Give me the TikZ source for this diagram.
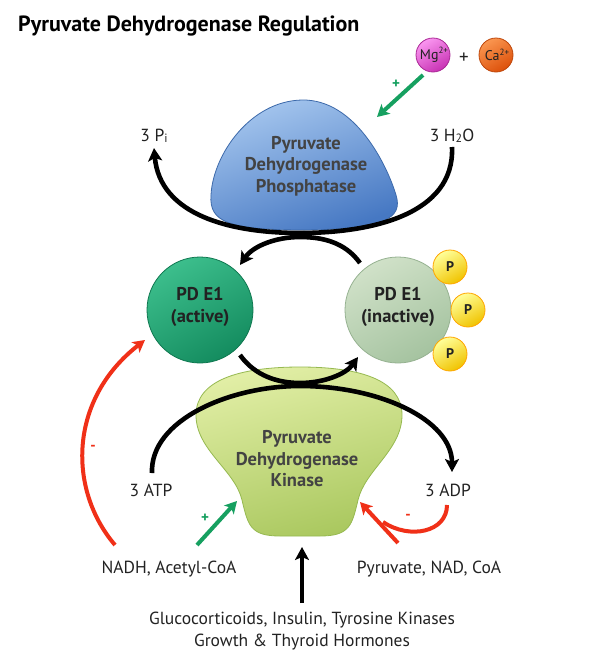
\documentclass[tikz,border=0pt]{standalone}
\usepackage{fontspec}
\setmainfont{PT Sans}
\usetikzlibrary{arrows.meta}
\definecolor{txt}{HTML}{222222}
\definecolor{grn}{HTML}{16A060}
\definecolor{rd}{HTML}{F03018}
\begin{document}
\begin{tikzpicture}[x=1pt,y=-1pt,
  lbl/.style={font=\fontsize{17.5}{20}\selectfont, text=txt, inner sep=0pt},
  enz/.style={font=\fontsize{18.5}{21.5}\selectfont\bfseries, text=txt!85, align=center, inner sep=0pt},
  pdtxt/.style={font=\fontsize{18.5}{22}\selectfont\bfseries, text=txt, align=center, inner sep=0pt},
  blackarc/.style={line width=4.6pt, -{Stealth[length=13pt,width=14pt,inset=3pt]}},
  grnarrow/.style={grn, line width=4pt, -{Stealth[length=12pt,width=13pt,inset=3pt]}},
  redarrow/.style={rd, line width=4pt, -{Stealth[length=12pt,width=13pt,inset=3pt]}},
  redline/.style={rd, line width=4pt},
  pball/.style={circle, minimum size=34pt, inner sep=0pt, draw=orange!70!yellow, line width=0.8pt,
    top color=yellow!40, bottom color={rgb,255:red,240;green,195;blue,0}, shading angle=30,
    font=\fontsize{14}{14}\selectfont\bfseries, text=txt},
  ion/.style={circle, minimum size=34pt, inner sep=0pt, line width=0.8pt, font=\fontsize{14}{14}\selectfont, text=txt},
  sign/.style={font=\fontsize{15}{15}\selectfont\bfseries, inner sep=0pt}
]
\useasboundingbox (0,0) rectangle (597,656);
\fill[white] (0,0) rectangle (597,656);

% title
\node[anchor=base west, inner sep=0pt, font=\fontsize{22}{24}\selectfont\bfseries, text=black] (title) at (18,31) {Pyruvate Dehydrogenase Regulation};

% ions
\node[ion, draw={rgb,255:red,170;green,40;blue,150}, top color={rgb,255:red,250;green,150;blue,240}, bottom color={rgb,255:red,200;green,50;blue,180}, shading angle=30] (mg) at (433,55) {\hspace{2pt}Mg\raisebox{0.8ex}{\fontsize{9}{9}\selectfont 2+}};
\node[font=\fontsize{19}{19}\selectfont, text=txt, inner sep=0pt] (plus) at (464,58) {+};
\node[ion, draw={rgb,255:red,190;green,70;blue,10}, top color={rgb,255:red,250;green,150;blue,80}, bottom color={rgb,255:red,220;green,80;blue,10}, shading angle=30] (ca) at (496,55) {\hspace{2pt}Ca\raisebox{0.8ex}{\fontsize{9}{9}\selectfont 2+}};

% phosphatase blob
\shade[draw={rgb,255:red,60;green,105;blue,170}, line width=0.8pt,
  top color={rgb,255:red,165;green,198;blue,238}, bottom color={rgb,255:red,70;green,120;blue,195}, shading angle=20]
  (302,100) .. controls (355,99) and (387,165) .. (396,195)
  .. controls (403,218) and (386,229) .. (305,230)
  .. controls (228,230) and (209,222) .. (211,195)
  .. controls (213,155) and (250,101) .. (302,100) -- cycle;
\node[enz] (pdp) at (306,166) {Pyruvate\\Dehydrogenase\\Phosphatase};

% kinase blob
\shade[draw={rgb,255:red,150;green,185;blue,80}, line width=0.8pt,
  top color={rgb,255:red,225;green,238;blue,165}, bottom color={rgb,255:red,170;green,200;blue,95}, shading angle=15]
  (300,367) .. controls (360,367) and (402,380) .. (402,415)
  .. controls (402,450) and (365,470) .. (358,500)
  .. controls (352,525) and (350,536) .. (320,536)
  -- (280,536) .. controls (250,536) and (248,525) .. (242,500)
  .. controls (235,470) and (196,450) .. (196,415)
  .. controls (196,380) and (240,367) .. (300,367) -- cycle;
\node[enz] (pdk) at (297,459) {Pyruvate\\Dehydrogenase\\Kinase};

% PD E1 circles
\node[circle, minimum size=106pt, inner sep=0pt, draw={rgb,255:red,15;green,120;blue,80}, line width=0.8pt,
  top color={rgb,255:red,60;green,190;blue,140}, bottom color={rgb,255:red,20;green,140;blue,95}, shading angle=30] (act) at (200,310) {};
\node[pdtxt] (acttxt) at (200,307) {PD E1\\(active)};
\node[circle, minimum size=106pt, inner sep=0pt, draw={rgb,255:red,150;green,178;blue,145}, line width=0.8pt,
  top color={rgb,255:red,208;green,225;blue,200}, bottom color={rgb,255:red,165;green,195;blue,160}, shading angle=30] (inact) at (398,310) {};
\node[pdtxt] (inacttxt) at (398,307) {PD E1\\(inactive)};

% phosphate balls
\node[pball] (p1) at (450,267) {P};
\node[pball] (p2) at (468,310) {P};
\node[pball] (p3) at (450,354) {P};

% labels
\node[lbl, anchor=base] (pi) at (154,141) {3 P\raisebox{-0.2ex}{\fontsize{12}{12}\selectfont i}};
\node[lbl, anchor=base] (h2o) at (452,141) {3 H\raisebox{-0.2ex}{\fontsize{12}{12}\selectfont 2}O};
\node[lbl, anchor=base] (atp) at (151,496) {3 ATP};
\node[lbl, anchor=base] (adp) at (448,496) {3 ADP};
\node[lbl, anchor=base] (nadh) at (169,573) {NADH, Acetyl-CoA};
\node[lbl, anchor=base] (pyr) at (429,573) {Pyruvate, NAD, CoA};
\node[lbl, anchor=base] (horm1) at (302,624) {Glucocorticoids, Insulin, Tyrosine Kinases};
\node[lbl, anchor=base] (horm2) at (302,646) {Growth \& Thyroid Hormones};

% connector coordinates
\coordinate (h2oS) at (452,147);
\coordinate (piS) at (154,148);
\coordinate (inTop) at (360,263);
\coordinate (actTop) at (240,265);
\coordinate (actBot) at (240,355);
\coordinate (inBot) at (358,357);
\coordinate (atpN) at (152,473);
\coordinate (adpN) at (452,472);
\coordinate (mgS) at (423,75);
\coordinate (pdpNE) at (377,117);
\coordinate (nadhN) at (115,545);
\coordinate (actSW) at (145,340);
\coordinate (acoaN) at (197,545);
\coordinate (pdkSW) at (237,501);
\coordinate (hormN) at (302,603);
\coordinate (pdkS) at (302,547);
\coordinate (pyrN) at (398,543);
\coordinate (pdkSE) at (360,502);
\coordinate (adpS) at (447,505);
\coordinate (join) at (383,522);

% black arcs
\draw[blackarc] (h2oS) .. controls (455,215) and (370,233) .. (300,233)
  .. controls (230,233) and (160,215) .. (piS);
\draw[blackarc] (inTop) .. controls (345,242) and (322,237) .. (300,237)
  .. controls (276,237) and (253,246) .. (actTop);
\draw[blackarc] (actBot) .. controls (255,376) and (278,383) .. (300,383)
  .. controls (324,383) and (346,374) .. (inBot);
\draw[blackarc] (atpN) .. controls (150,420) and (230,386) .. (300,386)
  .. controls (380,386) and (452,420) .. (adpN);
\draw[blackarc] (hormN) -- (pdkS);

% green arrows
\draw[grnarrow] (mgS) -- (pdpNE);
\node[sign, text=grn] (plus1) at (396,84) {+};
\draw[grnarrow] (acoaN) -- (pdkSW);
\node[sign, text=grn] (plus2) at (205,518) {+};

% red arrows
\draw[redarrow] (nadhN) .. controls (68,490) and (68,400) .. (actSW);
\node[sign, text=rd] (minus1) at (93,448) {-};
\draw[redline] (adpS) .. controls (447,532) and (410,540) .. (join);
\draw[redarrow] (pyrN) -- (pdkSE);
\node[sign, text=rd] (minus2) at (408,517) {-};
\end{tikzpicture}
\end{document}
